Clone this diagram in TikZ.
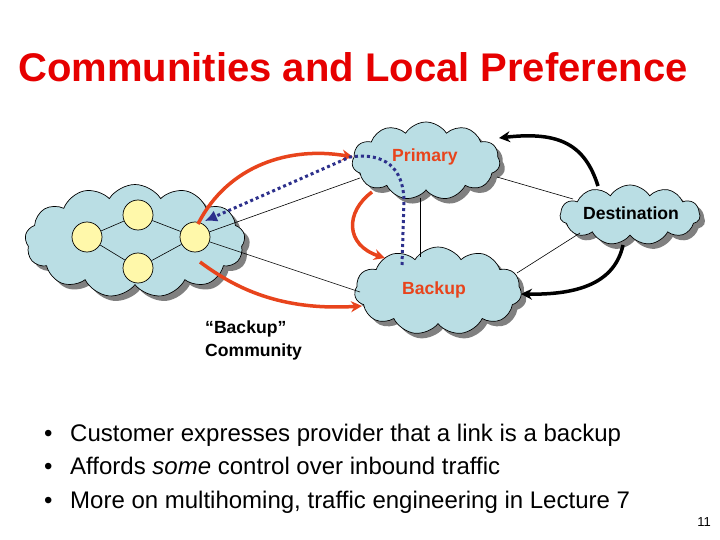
\documentclass[tikz,border=0pt]{standalone}
\usepackage{fontspec}
\setmainfont{Liberation Sans}
\usetikzlibrary{shapes.symbols,shadows,arrows.meta}
\definecolor{cloudblue}{RGB}{186,222,228}
\definecolor{titlered}{RGB}{230,0,0}
\definecolor{arrred}{RGB}{232,68,28}
\definecolor{dotblue}{RGB}{45,48,140}
\definecolor{nodeyellow}{RGB}{255,248,170}
\tikzset{
  netcloud/.style={cloud, draw=black, line width=0.7pt, fill=cloudblue, cloud puffs=#1, cloud puff arc=115, inner sep=0pt,
     drop shadow={shadow xshift=5pt, shadow yshift=-5pt, fill=black!50, opacity=1}},
  router/.style={circle, draw=black, line width=0.7pt, fill=nodeyellow, minimum size=30pt, inner sep=0pt},
  thin link/.style={draw=black, line width=0.6pt},
  redarrow/.style={draw=arrred, line width=3.5pt, -{Stealth[length=11pt,width=11pt]}},
  blackarrow/.style={draw=black, line width=3.5pt, -{Stealth[length=11pt,width=11pt]}},
  dotarrow/.style={draw=dotblue, line width=3pt, dash pattern=on 3pt off 3pt, -{Latex[length=12pt,width=12pt]}},
  cloudlabel/.style={font=\bfseries\fontsize{17.6}{20}\selectfont, inner sep=0pt},
  bullettext/.style={font=\fontsize{24}{28}\selectfont, anchor=base west, inner sep=0pt},
}
\begin{document}
\begin{tikzpicture}[x=1pt,y=-1pt]
\useasboundingbox (0,0) rectangle (720,540);
\fill[white] (0,0) rectangle (720,540);

% title
\node[anchor=base, text=titlered, font=\bfseries\fontsize{40}{44}\selectfont, inner sep=0pt] (title) at (353,82) {Communities and Local Preference};

% clouds
\node[netcloud=13, aspect=1.95, minimum width=220pt, minimum height=113pt] (cust) at (135,241) {};
\node[netcloud=11, aspect=1.9, minimum width=148pt, minimum height=78pt] (prim) at (426,161) {};
\node[netcloud=11, aspect=1.9, minimum width=167pt, minimum height=88pt] (back) at (438,291) {};
\node[netcloud=11, aspect=2.3, minimum width=140pt, minimum height=60pt] (dest) at (630,215) {};

% routers
\node[router] (r1) at (87,237) {};
\node[router] (r2) at (138,215) {};
\node[router] (r3) at (138,268) {};
\node[router] (r4) at (195,237) {};

% link end points
\coordinate (pL) at (360,178);
\coordinate (bL) at (360,292);
\coordinate (pB) at (420,198);
\coordinate (bT) at (420,257);
\coordinate (pR) at (497,177);
\coordinate (dL) at (573,199);
\coordinate (bR) at (517,273);
\coordinate (dB) at (580,233);

\draw[thin link] (r1) -- (r2);
\draw[thin link] (r1) -- (r3);
\draw[thin link] (r2) -- (r4);
\draw[thin link] (r3) -- (r4);
\draw[thin link] (r4) -- (pL);
\draw[thin link] (r4) -- (bL);
\draw[thin link] (pB) -- (bT);
\draw[thin link] (pR) -- (dL);
\draw[thin link] (bR) -- (dB);

% red arrows
\coordinate (ra1s) at (198,224);
\coordinate (ra1e) at (353,157);
\draw[redarrow] (ra1s) .. controls (228,165) and (290,146) .. (ra1e);
\coordinate (ra2s) at (200,262);
\coordinate (ra2e) at (362,306);
\draw[redarrow] (ra2s) .. controls (235,288) and (280,311) .. (ra2e);
\coordinate (ra3s) at (372,192);
\coordinate (ra3e) at (385,258);
\draw[redarrow] (ra3s) .. controls (345,212) and (345,245) .. (ra3e);

% black arrows
\coordinate (ba1s) at (598,186);
\coordinate (ba1e) at (499,138);
\draw[blackarrow] (ba1s) .. controls (585,145) and (560,131) .. (ba1e);
\coordinate (ba2s) at (623,245);
\coordinate (ba2e) at (521,294);
\draw[blackarrow] (ba2s) .. controls (615,282) and (580,295) .. (ba2e);

% blue dotted arrow
\coordinate (da0) at (402,265);
\coordinate (da1) at (404,200);
\coordinate (da2) at (350,157);
\coordinate (da3) at (205,221);
\draw[dotarrow] (da0) -- (da1) .. controls (403,168) and (385,152) .. (da2) -- (da3);

% cloud labels
\node[cloudlabel, text=arrred, anchor=base] (lprim) at (425,162) {Primary};
\node[cloudlabel, text=black, anchor=base] (ldest) at (631,219) {Destination};
\node[cloudlabel, text=arrred, anchor=base] (lback) at (434,294) {Backup};
\node[cloudlabel, anchor=base west, align=left] (lcomm) at (205,333) {``Backup''};
\node[cloudlabel, anchor=base west] (lcomm2) at (205,356) {Community};

% bullets
\node[bullettext] (b1) at (44,441) {\textbullet};
\node[bullettext] (t1) at (70,441) {Customer expresses provider that a link is a backup};
\node[bullettext] (b2) at (44,474) {\textbullet};
\node[bullettext] (t2) at (70,474) {Affords \textit{some} control over inbound traffic};
\node[bullettext] (b3) at (44,508) {\textbullet};
\node[bullettext] (t3) at (70,508) {More on multihoming, traffic engineering in Lecture 7};

\node[anchor=base east, font=\fontsize{13}{15}\selectfont, inner sep=0pt] (pg) at (711,526) {11};
\end{tikzpicture}
\end{document}
